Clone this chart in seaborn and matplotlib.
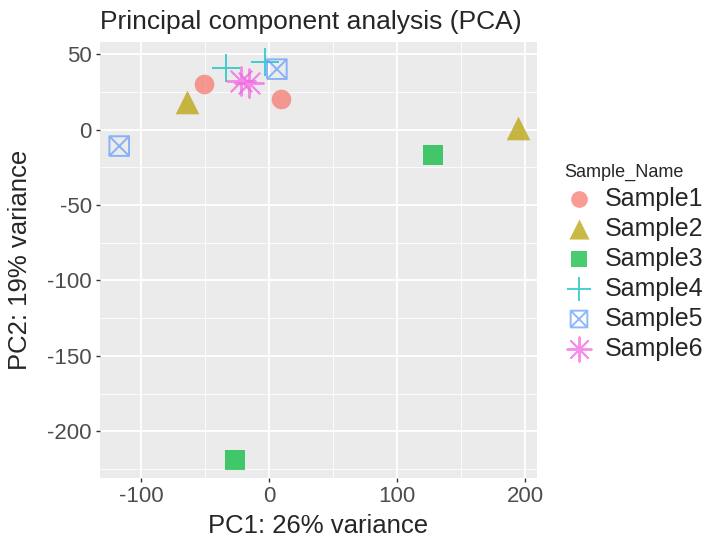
import numpy as np
import pandas as pd
import matplotlib.pyplot as plt
import seaborn as sns
from matplotlib.path import Path
from matplotlib.ticker import MultipleLocator

# PCA coordinates
sample_names = ["Sample1", "Sample2", "Sample3", "Sample4", "Sample5", "Sample6"]
pc1 = {
    "Sample1": [-51, 9],
    "Sample2": [-64, 194],
    "Sample3": [128, -27],
    "Sample4": [-34, -3],
    "Sample5": [-117, 6],
    "Sample6": [-22, -16],
}
pc2 = {
    "Sample1": [30, 20],
    "Sample2": [18, 1],
    "Sample3": [-17, -219],
    "Sample4": [41, 45],
    "Sample5": [-11, 40],
    "Sample6": [32, 31],
}

# ggplot default hue palette
colors = ["#F8766D", "#B79F00", "#00BA38", "#00BFC4", "#619CFF", "#F564E3"]

# square with a cross inside (ggplot shape 7)
box_x = Path(
    [(-0.5, -0.5), (0.5, -0.5), (0.5, 0.5), (-0.5, 0.5), (-0.5, -0.5),
     (-0.5, -0.5), (0.5, 0.5), (-0.5, 0.5), (0.5, -0.5)],
    [Path.MOVETO, Path.LINETO, Path.LINETO, Path.LINETO, Path.LINETO,
     Path.MOVETO, Path.LINETO, Path.MOVETO, Path.LINETO],
)
markers = ["o", "^", "s", "+", box_x, (8, 2, 0)]
sizes = [200, 290, 200, 420, 200, 420]

rows = []
for name in sample_names:
    for x, y in zip(pc1[name], pc2[name]):
        rows.append({"Sample_Name": name, "PC1": x, "PC2": y})
df = pd.DataFrame(rows)

sns.set_theme(style="darkgrid", rc={
    "axes.facecolor": "#EBEBEB",
    "grid.color": "white",
})
plt.rcParams["font.family"] = ["Liberation Sans", "DejaVu Sans"]
plt.rcParams["axes.unicode_minus"] = False

fig = plt.figure(figsize=(7.18, 5.45), dpi=100)
ax = fig.add_axes([100 / 718, 1 - 478 / 545, 437 / 718, 436 / 545])

for name, col, mk, sz in zip(sample_names, colors, markers, sizes):
    sub = df[df["Sample_Name"] == name]
    kw = dict(x="PC1", y="PC2", data=sub, marker=mk, s=sz, ax=ax,
              label=name, alpha=0.72, zorder=3)
    if mk == "+" or isinstance(mk, tuple):
        kw.update(color=col, linewidth=1.4)
    elif isinstance(mk, Path):
        kw.update(color=col, facecolor="none", edgecolor=col, linewidth=1.4)
    else:
        kw.update(color=col, linewidth=0)
    sns.scatterplot(**kw)

ax.set_xlim(-132, 209)
ax.set_ylim(-231, 58)
ax.xaxis.set_major_locator(MultipleLocator(100))
ax.xaxis.set_minor_locator(MultipleLocator(50))
ax.yaxis.set_major_locator(MultipleLocator(50))
ax.yaxis.set_minor_locator(MultipleLocator(25))
ax.grid(which="major", color="white", linewidth=1.3)
ax.grid(which="minor", color="white", linewidth=0.6)
ax.tick_params(axis="both", which="major", labelsize=16, labelcolor="#4D4D4D",
               length=3, width=1, color="#333333", bottom=True, left=True, pad=3)
ax.tick_params(which="minor", length=0)
for s in ax.spines.values():
    s.set_visible(False)

ax.set_title("Principal component analysis (PCA)", fontsize=19, pad=9, loc="left")
ax.set_xlabel("PC1: 26% variance", fontsize=18.5, labelpad=5)
ax.set_ylabel("PC2: 19% variance", fontsize=18.5, labelpad=11)

handles, labels = ax.get_legend_handles_labels()
leg = ax.legend(handles, labels, title="Sample_Name", loc="center left",
                bbox_to_anchor=(564 / 718, 1 - 262 / 545), bbox_transform=fig.transFigure,
                frameon=False, fontsize=18, title_fontsize=13, labelspacing=0.24,
                handlelength=1.2, handletextpad=0.45, borderaxespad=0,
                borderpad=0, markerscale=0.85)
leg._legend_box.align = "left"

fig.savefig("out.png", dpi=100)
